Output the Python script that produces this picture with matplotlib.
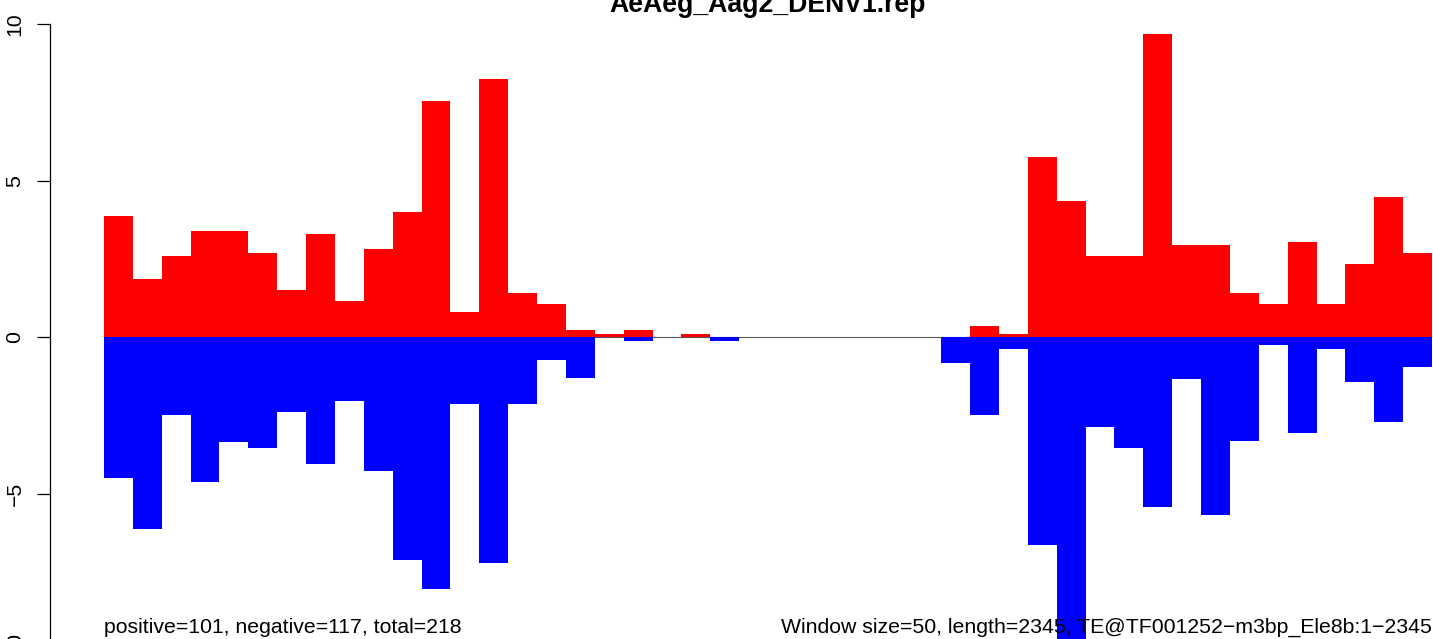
import numpy as np
import matplotlib
matplotlib.use("Agg")
import matplotlib.pyplot as plt

plt.rcParams['font.family'] = ['Liberation Sans', 'DejaVu Sans']

# ---- data ----
windows = np.arange(46)
positive = [3.88, 1.85, 2.60, 3.40, 3.40, 2.69, 1.50, 3.30, 1.15, 2.82,
            4.01, 7.54, 0.80, 8.24, 1.41, 1.06, 0.23, 0.11, 0.23, 0.0,
            0.11, 0.0, 0.0, 0.0, 0.0, 0.0, 0.0, 0.0, 0.0, 0.0,
            0.35, 0.10, 5.77, 4.36, 2.60, 2.60, 9.68, 2.95, 2.95, 1.41,
            1.06, 3.04, 1.06, 2.34, 4.49, 2.69]
negative = [-4.51, -6.14, -2.49, -4.61, -3.33, -3.55, -2.38, -4.04, -2.02, -4.26,
            -7.11, -8.03, -2.14, -7.20, -2.14, -0.73, -1.31, 0.0, -0.12, 0.0,
            0.0, -0.12, 0.0, 0.0, 0.0, 0.0, 0.0, 0.0, 0.0, -0.82,
            -2.48, -0.37, -6.62, -9.90, -2.85, -3.54, -5.43, -1.32, -5.69, -3.32,
            -0.26, -3.07, -0.37, -1.44, -2.72, -0.95]
yticks = [-10, -5, 0, 5, 10]
ytick_labels = ["\u221210", "\u22125", "0", "5", "10"]
title = "AeAeg_Aag2_DENV1.rep"
left_note = "positive=101, negative=117, total=218"
right_note = "Window size=50, length=2345, TE@TF001252\u2212m3bp_Ele8b:1\u22122345"

# ---- figure ----
W, H, DPI = 1433, 639, 100
fig = plt.figure(figsize=(W / DPI, H / DPI), dpi=DPI)
ax = fig.add_axes([104 / W, 0, 1328 / W, 1])

ax.axhline(0, color='#555555', lw=0.8, zorder=1)
ax.bar(windows, positive, width=1.0, align='edge', color='#FF0000', linewidth=0, zorder=2)
ax.bar(windows, negative, width=1.0, align='edge', color='#0000FF', linewidth=0, zorder=2)

ax.set_xlim(0, len(windows))
px_per_unit = 31.3
zero_px = 337.3
ax.set_ylim(-(H - zero_px) / px_per_unit, zero_px / px_per_unit)

for s in ['top', 'right', 'bottom']:
    ax.spines[s].set_visible(False)
ax.spines['left'].set_position(('outward', 54 * 72 / DPI))
ax.spines['left'].set_bounds(-10, 10)
ax.spines['left'].set_linewidth(0.9)
ax.set_xticks([])
ax.set_yticks([t for t in yticks if t >= -9])
ax.tick_params(axis='y', length=13 * 72 / DPI, width=0.9, labelleft=False)

# rotated tick labels (R style)
xlab = (20.5 - 104) / 1328
for t, lab in zip(yticks, ytick_labels):
    ax.text(xlab, t, lab, transform=ax.get_yaxis_transform(), rotation=90,
            rotation_mode='anchor', ha='center', va='baseline',
            fontsize=15.3, clip_on=False)

ax.text(0.5, 1 - 12 / H, title, transform=ax.transAxes, ha='center', va='baseline',
        fontsize=19.2, fontweight='bold', zorder=5)
ax.text(0.0, (H - 633) / H, left_note, transform=ax.transAxes, ha='left',
        va='baseline', fontsize=15.3, zorder=5)
ax.text(1.0, (H - 633) / H, right_note, transform=ax.transAxes, ha='right',
        va='baseline', fontsize=15.3, zorder=5)

fig.savefig("out.png", dpi=DPI)
